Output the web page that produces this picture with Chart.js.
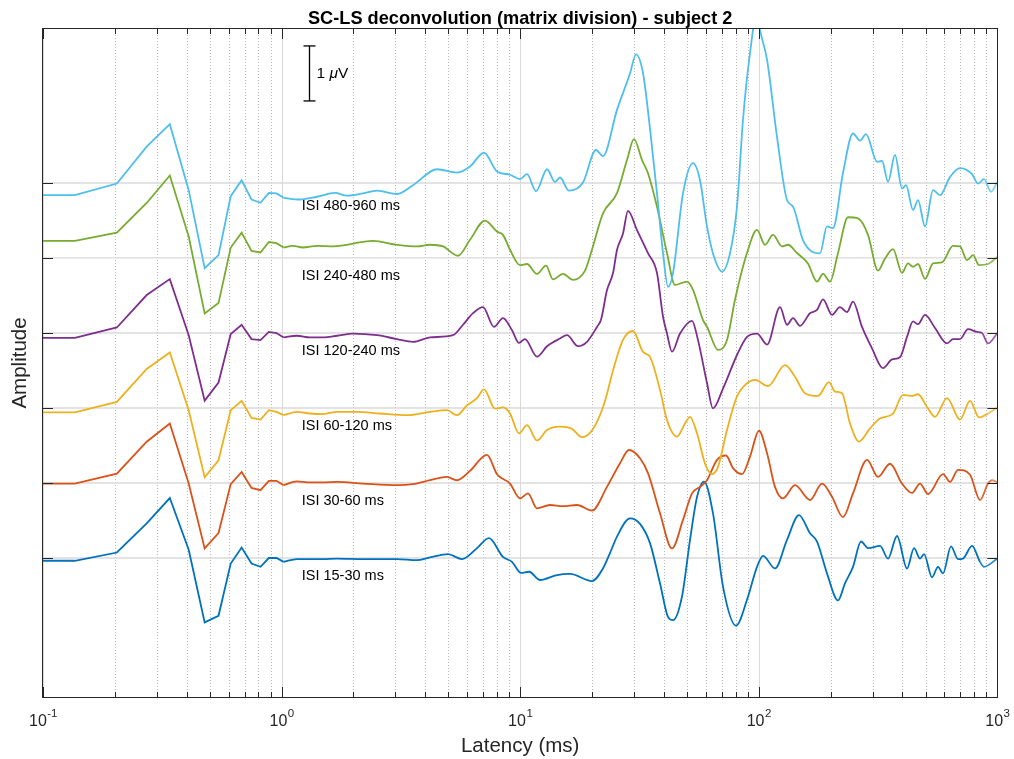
<!DOCTYPE html>
<html>
<head>
<meta charset="utf-8">
<title>SC-LS deconvolution (matrix division) - subject 2</title>
<script src="https://cdn.jsdelivr.net/npm/chart.js@4.4.1/dist/chart.umd.min.js"></script>
<style>
  html, body { margin: 0; padding: 0; background: #fff; }
  canvas { display: block; }
</style>
</head>
<body>
<canvas id="chart" width="1014" height="759"></canvas>
<script>
// first samples after the click (ms), drawn as plain straight segments
const earlyLatency = [0.068, 0.136, 0.204, 0.272, 0.340, 0.408, 0.476, 0.544, 0.612, 0.680, 0.748, 0.816, 0.884, 0.952, 1.020]

const isiLabels = ['ISI 15-30 ms', 'ISI 30-60 ms', 'ISI 60-120 ms', 'ISI 120-240 ms', 'ISI 240-480 ms', 'ISI 480-960 ms']
// vertical offset of each trace (uV)
const offsets = [0, 1.364, 2.727, 4.091, 5.455, 6.818]

// ISI 15-30 ms
const early15 = [-0.05, -0.05, 0.10, 0.63, 1.09, 0.15, -1.17, -1.05, -0.10, 0.19, -0.10, -0.16, 0, 0, -0.07]
const lat15 = [1.02, 1.16, 1.315, 1.492, 1.708, 2.194, 3.046, 3.693, 4.188, 4.982, 5.703, 6.591, 7.399, 8.47, 9.239, 10.08, 10.89, 12.11, 14.26, 16.17, 19.99, 22.23, 23.79, 25.45, 28.85, 31.78, 34.99, 38.54, 41.63, 43.69, 47.66, 51.49, 55.09, 58.93, 64.28, 70.79, 80.24, 89.24, 98.28, 104.2, 116.9, 131.3, 147.4, 163.9, 175.4, 193.1, 214.8, 229.7, 248.2, 268.2, 286.9, 322.2, 348.1, 379.6, 418.0, 447.3, 473.9, 492.6, 532.1, 563.8, 591.7, 639.1, 683.8, 717.6, 782.8, 845.6, 878.9, 1000]
const amp15 = [-0.07, -0.02, -0.02, -0.02, -0.01, -0.02, -0.02, -0.04, 0.01, 0.07, -0.02, 0.18, 0.36, 0.02, -0.07, -0.27, -0.25, -0.40, -0.31, -0.29, -0.42, -0.19, 0.09, 0.39, 0.72, 0.62, 0.27, -0.46, -1.07, -1.13, -0.70, 0.33, 1.11, 1.39, 0.81, -0.52, -1.23, -0.76, -0.16, 0.04, -0.19, 0.33, 0.78, 0.45, 0.30, -0.28, -0.77, -0.46, -0.16, 0.30, 0.18, 0.22, -0.01, 0.40, -0.19, 0.18, -0.01, 0.07, -0.35, -0.16, -0.28, 0.21, -0.02, -0.01, 0.22, -0.07, -0.16, -0.01]

// ISI 30-60 ms
const early30 = [-0.01, -0.01, 0.17, 0.75, 1.08, -0.01, -1.19, -0.91, -0.02, 0.20, -0.09, -0.13, 0.04, 0.04, -0.04]
const lat30 = [1.02, 1.16, 1.315, 1.492, 1.708, 2.194, 3.046, 3.553, 4.188, 4.934, 5.434, 6.16, 7.258, 7.993, 9.062, 9.98, 10.78, 11.76, 13.33, 15.11, 17.30, 19.99, 23.11, 26.20, 28.58, 31.78, 34.33, 38.54, 43.27, 48.12, 52.49, 56.70, 60.66, 66.80, 72.87, 77.96, 85.04, 91.86, 100.2, 108.3, 116.9, 126.3, 141.8, 163.9, 184.0, 202.7, 225.3, 248.2, 284.2, 316.0, 354.8, 398.3, 438.7, 473.9, 512.0, 591.7, 633.0, 683.8, 767.8, 845.6, 913.5, 949.4, 1000]
const amp30 = [-0.04, 0.03, 0.01, 0.01, 0.02, -0.01, -0.04, -0.02, 0.05, 0.11, 0.05, 0.22, 0.51, 0.16, -0.01, -0.28, -0.19, -0.46, -0.40, -0.42, -0.40, -0.50, -0.07, 0.36, 0.60, 0.45, 0.18, -0.55, -1.19, -0.67, -0.19, -0.07, 0.05, 0.42, 0.50, 0.27, 0.16, 0.48, 0.95, 0.54, -0.07, -0.28, -0.04, -0.31, -0.01, -0.25, -0.62, -0.19, 0.42, 0.11, 0.35, -0.01, -0.18, -0.01, -0.20, 0.16, 0.02, 0.24, 0.15, -0.31, -0.01, 0.05, 0.01]

// ISI 60-120 ms
const early60 = [-0.08, -0.08, 0.11, 0.71, 1.01, -0.04, -1.26, -0.95, -0.04, 0.13, -0.18, -0.21, -0.04, -0.07, -0.13]
const lat60 = [1.02, 1.16, 1.315, 1.492, 1.708, 2.07, 2.585, 3.354, 4.188, 4.934, 5.434, 5.985, 6.591, 7.051, 7.84, 8.47, 9.062, 9.884, 10.68, 11.76, 12.96, 14.68, 16.49, 18.16, 20.19, 22.45, 24.73, 26.97, 29.70, 32.71, 34.99, 38.54, 41.23, 45.41, 49.06, 51.49, 55.09, 59.50, 63.66, 67.45, 73.58, 81.02, 89.24, 96.40, 109.3, 128.8, 141.8, 156.2, 177.1, 196.9, 208.6, 223.2, 241.1, 263.0, 292.5, 322.2, 365.2, 402.2, 438.7, 464.9, 507.0, 547.7, 615.0, 697.1, 767.8, 837.4, 913.5, 1000]
const amp60 = [-0.13, -0.07, -0.10, -0.11, -0.07, -0.07, -0.10, -0.13, -0.07, -0.04, -0.13, 0.05, 0.18, 0.34, -0.01, 0.01, -0.10, -0.46, -0.31, -0.59, -0.40, -0.34, -0.38, -0.53, -0.38, 0.07, 0.75, 1.24, 1.40, 1.02, 0.93, 0.33, -0.22, -0.52, -0.28, -0.16, -0.46, -1.01, -1.20, -1.07, -0.40, 0.21, 0.45, 0.51, 0.40, 0.78, 0.57, 0.27, 0.22, 0.47, 0.30, 0.27, -0.28, -0.61, -0.37, -0.19, -0.10, 0.24, 0.22, 0.25, 0.02, -0.16, 0.18, -0.21, 0.13, -0.17, -0.10, 0.01]

// ISI 120-240 ms
const early120 = [-0.09, -0.09, 0.10, 0.69, 0.98, -0.04, -1.23, -0.90, -0.02, 0.15, -0.11, -0.13, 0.02, 0, -0.08]
const lat120 = [1.02, 1.16, 1.315, 1.492, 1.708, 1.992, 2.511, 3.046, 3.553, 4.188, 5.228, 5.758, 6.341, 6.983, 7.765, 8.47, 9.239, 9.884, 10.47, 11.76, 12.96, 14.68, 15.71, 17.47, 19.05, 20.98, 21.81, 23.11, 24.49, 25.45, 26.97, 28.30, 30.87, 34.33, 37.44, 39.67, 41.23, 43.27, 46.75, 52.49, 55.62, 60.66, 64.28, 70.79, 81.02, 89.24, 98.28, 108.3, 122.7, 131.3, 139.1, 148.8, 163.9, 175.4, 185.8, 202.7, 218.9, 234.2, 248.2, 270.8, 298.2, 331.7, 361.7, 390.7, 418.0, 442.9, 464.9, 497.3, 547.7, 615.0, 651.6, 697.1, 753.1, 821.5, 862.1, 913.5, 1000]
const amp120 = [-0.08, -0.05, -0.08, -0.08, -0.05, -0.01, -0.04, -0.11, -0.16, -0.08, -0.04, 0.15, 0.36, 0.47, 0.11, 0.27, 0.05, -0.18, -0.11, -0.43, -0.24, -0.10, -0.04, -0.24, -0.16, 0.11, 0.24, 0.78, 1.09, 1.51, 1.81, 2.22, 1.87, 1.45, 1.09, 0.30, -0.01, -0.34, -0.01, 0.22, -0.13, -0.91, -1.37, -1.01, -0.40, -0.07, -0.01, -0.21, 0.47, 0.15, 0.27, 0.13, 0.36, 0.42, 0.61, 0.33, 0.47, 0.38, 0.57, 0.11, -0.28, -0.64, -0.48, -0.44, -0.07, 0.21, 0.16, 0.33, 0.09, -0.19, -0.11, -0.11, 0.07, 0.02, 0, -0.19, 0]

// ISI 240-480 ms
const early240 = [0.31, 0.31, 0.46, 1.00, 1.50, 0.39, -1.01, -0.82, 0.19, 0.46, 0.13, 0.10, 0.29, 0.27, 0.19]
const lat240 = [1.02, 1.116, 1.229, 1.407, 1.643, 2.416, 3.046, 3.693, 4.188, 4.748, 5.487, 6.16, 7.119, 7.993, 8.47, 9.062, 9.98, 10.68, 11.76, 12.83, 13.72, 15.11, 16.65, 18.69, 19.99, 22.23, 25.45, 28.03, 29.99, 32.40, 34.33, 37.44, 41.23, 44.54, 50.02, 53.0, 58.37, 60.66, 67.45, 73.58, 79.47, 89.24, 98.28, 106.2, 114.7, 125.1, 132.6, 144.5, 160.7, 175.4, 185.8, 198.8, 214.8, 236.5, 260.5, 286.9, 316.0, 338.1, 365.2, 398.3, 422.1, 442.9, 464.9, 497.3, 537.3, 586.0, 651.6, 697.1, 745.8, 790.4, 837.4, 913.5, 1000]
const amp240 = [0.19, 0.22, 0.19, 0.22, 0.21, 0.31, 0.24, 0.21, 0.24, 0.21, 0.04, 0.33, 0.68, 0.48, 0.42, 0.15, -0.13, -0.11, -0.29, -0.14, -0.39, -0.29, -0.40, -0.23, 0.15, 0.81, 1.18, 1.78, 2.16, 1.78, 1.54, 0.93, 0.09, -0.49, -0.43, -0.58, -1.13, -1.25, -1.67, -1.49, -0.76, 0.09, 0.51, 0.24, 0.42, 0.21, 0.24, 0.09, -0.10, -0.43, -0.29, -0.43, 0.09, 0.74, 0.72, 0.42, -0.23, -0.01, 0.16, -0.27, -0.10, -0.16, -0.11, -0.38, -0.10, -0.08, 0.22, 0.21, -0.04, 0.05, -0.13, -0.11, 0.02]

// ISI 480-960 ms
const early480 = [-0.22, -0.22, -0.01, 0.66, 1.07, -0.13, -1.55, -1.31, -0.24, 0.05, -0.30, -0.36, -0.18, -0.19, -0.27]
const lat480 = [1.02, 1.194, 1.407, 1.675, 1.880, 2.194, 2.511, 3.046, 3.553, 4.481, 5.434, 6.16, 7.051, 7.993, 9.062, 9.98, 10.68, 11.65, 12.96, 13.99, 14.68, 16.01, 18.33, 20.78, 22.23, 25.45, 28.85, 30.57, 32.71, 34.99, 37.44, 39.67, 41.63, 43.69, 48.12, 53.0, 56.70, 60.66, 64.28, 70.11, 75.73, 81.02, 85.86, 91.86, 98.28, 101.2, 108.3, 119.2, 131.3, 139.1, 153.2, 167.1, 180.5, 193.1, 204.6, 225.3, 248.2, 265.6, 281.4, 312.9, 328.5, 348.1, 372.3, 398.3, 414.0, 442.9, 464.9, 497.3, 537.3, 574.8, 633.0, 697.1, 782.8, 829.4, 878.9, 940.2, 1000]
const amp480 = [-0.27, -0.30, -0.25, -0.18, -0.23, -0.19, -0.14, -0.20, -0.04, 0.25, 0.19, 0.30, 0.55, 0.21, 0.15, 0.07, 0.16, -0.15, 0.25, 0.02, 0.10, -0.14, 0.01, 0.60, 0.49, 1.33, 1.99, 2.34, 2.00, 0.99, -0.19, -1.27, -1.89, -1.64, -0.19, 0.36, 0.05, -0.79, -1.28, -1.61, -1.28, -0.43, 1.15, 2.36, 3.10, 2.78, 2.24, 0.84, -0.31, -0.43, -1.04, -1.25, -1.28, -0.79, -0.82, 0.18, 0.90, 0.77, 0.89, 0.39, 0.40, 0.02, 0.51, -0.10, -0.04, -0.49, -0.31, -0.79, -0.13, -0.22, 0.11, 0.27, 0.16, -0.01, 0.07, -0.16, 0.02]

const xTickExponents = [-1, 0, 1, 2, 3]
const xMinorSteps = [2, 3, 4, 5, 6, 7, 8, 9]

// MATLAB default colour order
const lineColors = [[0, 114, 189], [217, 83, 25], [237, 177, 32], [126, 47, 142], [119, 172, 48], [77, 190, 238]]

const series = [
  { early: early15, lat: lat15, amp: amp15 },
  { early: early30, lat: lat30, amp: amp30 },
  { early: early60, lat: lat60, amp: amp60 },
  { early: early120, lat: lat120, amp: amp120 },
  { early: early240, lat: lat240, amp: amp240 },
  { early: early480, lat: lat480, amp: amp480 }
]

const FONT = '"Liberation Sans", Arial, Helvetica, sans-serif'
const INK = '#262626'

// lines get paler over the last part of the window
function fade (rgb, latency) {
  const t = latency <= 800 ? 0 : Math.min(1, Math.log(latency / 800) / Math.log(1000 / 800))
  return 'rgba(' + rgb.join(',') + ',' + (1 - 0.45 * t) + ')'
}

const datasets = []
series.forEach((s, i) => {
  const rgb = lineColors[i]
  const off = offsets[i]
  datasets.push({
    label: isiLabels[i] + ' (early)',
    data: earlyLatency.map((t, k) => ({ x: t, y: s.early[k] + off })),
    borderColor: 'rgb(' + rgb.join(',') + ')',
    borderWidth: 1.8,
    tension: 0,
    order: 6 - i
  })
  datasets.push({
    label: isiLabels[i],
    data: s.lat.map((t, k) => ({ x: t, y: s.amp[k] + off })),
    borderColor: 'rgb(' + rgb.join(',') + ')',
    segment: { borderColor: c => fade(rgb, c.p0.parsed.x) },
    borderWidth: 1.8,
    cubicInterpolationMode: 'monotone',
    tension: 0.4,
    order: 6 - i
  })
})

// text placement
const isiLabelLatency = 1.214
const isiLabelDrop = [0.33, 0.32, 0.32, 0.32, 0.32, 0.42]
const scaleBar = { latency: 1.306, top: 9.31, size: 1 }

function seg (ctx, x0, y0, x1, y1) {
  ctx.beginPath()
  ctx.moveTo(x0, y0)
  ctx.lineTo(x1, y1)
  ctx.stroke()
}

const snap = v => Math.round(v) + 0.5

const matlabAxes = {
  id: 'matlabAxes',
  beforeDatasetsDraw (chart) {
    const { ctx, chartArea: a, scales: { x, y } } = chart
    ctx.save()
    ctx.lineWidth = 1

    // minor grid, dotted
    ctx.strokeStyle = '#b8b8b8'
    ctx.setLineDash([1, 2])
    xTickExponents.slice(0, -1).forEach(e => {
      xMinorSteps.forEach(m => {
        const px = snap(x.getPixelForValue(m * Math.pow(10, e)))
        seg(ctx, px, a.top, px, a.bottom)
      })
    })
    ctx.setLineDash([])

    // major grid
    ctx.strokeStyle = '#dadada'
    xTickExponents.forEach(e => {
      const px = snap(x.getPixelForValue(Math.pow(10, e)))
      seg(ctx, px, a.top, px, a.bottom)
    })
    ctx.lineWidth = 1.3
    offsets.forEach(o => {
      const py = y.getPixelForValue(o)
      seg(ctx, a.left, py, a.right, py)
    })
    ctx.restore()
  },

  afterDatasetsDraw (chart) {
    const { ctx, chartArea: a, scales: { x, y } } = chart
    ctx.save()
    ctx.strokeStyle = INK
    ctx.fillStyle = INK
    ctx.lineWidth = 1

    // box
    ctx.strokeRect(snap(a.left) - 1, snap(a.top) - 1, Math.round(a.right - a.left) + 1, Math.round(a.bottom - a.top) + 1)

    // x ticks, bottom and top, pointing in
    xTickExponents.forEach(e => {
      const px = snap(x.getPixelForValue(Math.pow(10, e)))
      seg(ctx, px, a.bottom, px, a.bottom - 10)
      seg(ctx, px, a.top, px, a.top + 10)
      if (e < 3) {
        xMinorSteps.forEach(m => {
          const mx = snap(x.getPixelForValue(m * Math.pow(10, e)))
          seg(ctx, mx, a.bottom, mx, a.bottom - 5)
          seg(ctx, mx, a.top, mx, a.top + 5)
        })
      }
    })

    // y ticks at each trace baseline, both sides
    offsets.forEach(o => {
      const py = snap(y.getPixelForValue(o))
      seg(ctx, a.left, py, a.left + 10, py)
      seg(ctx, a.right, py, a.right - 10, py)
    })

    // x tick labels 10^e
    ctx.textBaseline = 'alphabetic'
    ctx.textAlign = 'left'
    xTickExponents.forEach(e => {
      const px = x.getPixelForValue(Math.pow(10, e))
      ctx.font = '16px ' + FONT
      const wb = ctx.measureText('10').width
      ctx.font = '11.5px ' + FONT
      const we = ctx.measureText(String(e)).width
      const left = px - (wb + we) / 2
      ctx.font = '16px ' + FONT
      ctx.fillText('10', left, 725.5)
      ctx.font = '11.5px ' + FONT
      ctx.fillText(String(e), left + wb + 0.5, 716.5)
    })

    // axis titles
    ctx.textAlign = 'center'
    ctx.font = '20.5px ' + FONT
    ctx.fillText('Latency (ms)', (a.left + a.right) / 2, 751.5)
    ctx.save()
    ctx.translate(25.5, (a.top + a.bottom) / 2)
    ctx.rotate(-Math.PI / 2)
    ctx.fillText('Amplitude', 0, 0)
    ctx.restore()

    // title
    ctx.fillStyle = '#000'
    ctx.font = 'bold 18.2px ' + FONT
    ctx.fillText('SC-LS deconvolution (matrix division) - subject 2', (a.left + a.right) / 2, 23.5)

    // trace labels
    ctx.fillStyle = '#000'
    ctx.textAlign = 'left'
    ctx.textBaseline = 'middle'
    ctx.font = '14.5px ' + FONT
    const lx = x.getPixelForValue(isiLabelLatency)
    isiLabels.forEach((t, i) => {
      ctx.fillText(t, lx, y.getPixelForValue(offsets[i] - isiLabelDrop[i]))
    })

    // 1 uV scale bar
    ctx.strokeStyle = '#000'
    ctx.lineWidth = 1.3
    const bx = snap(x.getPixelForValue(scaleBar.latency))
    const bt = y.getPixelForValue(scaleBar.top)
    const bb = y.getPixelForValue(scaleBar.top - scaleBar.size)
    seg(ctx, bx, bt, bx, bb)
    seg(ctx, bx - 6, bt, bx + 6, bt)
    seg(ctx, bx - 6, bb, bx + 6, bb)
    let tx = bx + 7
    const ty = (bt + bb) / 2
    ctx.font = '15.5px ' + FONT
    ctx.fillText('1 ', tx, ty)
    tx += ctx.measureText('1 ').width
    ctx.font = 'italic 15.5px ' + FONT
    ctx.fillText('\u03bc', tx, ty)
    tx += ctx.measureText('\u03bc').width
    ctx.font = '15.5px ' + FONT
    ctx.fillText('V', tx, ty)
    ctx.restore()
  }
}

new Chart(document.getElementById('chart'), {
  type: 'line',
  data: { datasets },
  options: {
    responsive: false,
    animation: false,
    devicePixelRatio: 1,
    layout: { padding: { top: 29, right: 16.6, left: 0, bottom: 0 } },
    elements: { point: { radius: 0, hitRadius: 0 } },
    datasets: { line: { clip: 0 } },
    plugins: { legend: { display: false }, tooltip: { enabled: false }, title: { display: false } },
    scales: {
      x: {
        type: 'logarithmic',
        min: 0.1,
        max: 1000,
        grid: { display: false },
        border: { display: false },
        ticks: { display: false },
        afterFit: s => { s.height = 62 }
      },
      y: {
        type: 'linear',
        min: -2.527,
        max: 9.618,
        grid: { display: false },
        border: { display: false },
        ticks: { display: false },
        afterFit: s => { s.width = 43 }
      }
    }
  },
  plugins: [matlabAxes]
})
</script>
</body>
</html>
